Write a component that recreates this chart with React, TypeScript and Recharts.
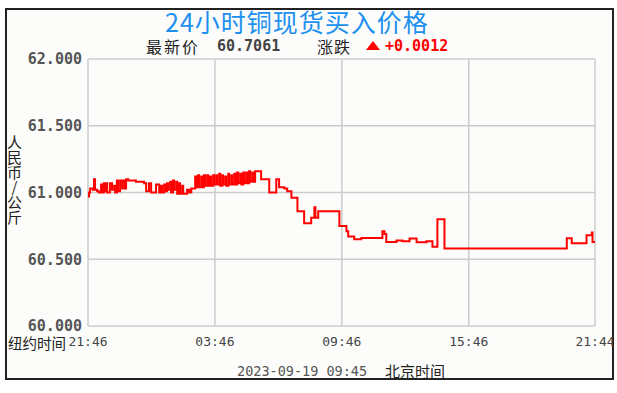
import React from 'react';
import { LineChart, Line, XAxis, YAxis, CartesianGrid } from 'recharts';

// minutes after 21:46 (New York) and spot buy price
const minutes = [
  0, 3, 6, 14, 17, 20, 26, 31, 37, 40, 45, 48, 51, 54, 60, 62, 68, 74, 77, 82,
  85, 91, 97, 99, 105, 108, 114, 136, 151, 159, 165, 173, 179, 187, 193, 199, 202, 207, 210, 216,
  219, 224, 227, 233, 236, 241, 244, 250, 253, 258, 261, 267, 270, 275, 281, 287, 293, 301, 304, 307,
  312, 315, 321, 324, 329, 332, 338, 341, 346, 349, 355, 358, 364, 366, 372, 375, 381, 383, 389, 392,
  398, 400, 406, 409, 415, 418, 423, 426, 432, 435, 440, 443, 449, 452, 457, 460, 466, 469, 474, 480,
  491, 514, 534, 542, 557, 565, 577, 594, 613, 633, 642, 645, 653, 693, 713, 733, 738, 755, 775, 835,
  841, 846, 875, 892, 912, 932, 960, 977, 991, 1011, 1358, 1372, 1414, 1429, 1431, 1438,
];
const prices = [
  60.97, 61.0, 61.03, 61.02, 61.1, 61.02, 61.01, 61.0, 61.06, 61.0, 61.07, 61.01, 61.07, 61.0, 61.0, 61.07, 61.02, 61.05, 61.0, 61.09,
  61.01, 61.09, 61.03, 61.09, 61.03, 61.1, 61.09, 61.08, 61.08, 61.07, 61.01, 61.07, 61.0, 61.0, 61.06, 61.06, 61.0, 61.05, 61.0, 61.06,
  61.01, 61.07, 61.02, 61.08, 61.0, 61.09, 61.02, 61.08, 60.99, 61.07, 60.99, 61.05, 60.99, 60.99, 61.02, 61.0, 61.03, 61.03, 61.12, 61.04,
  61.13, 61.04, 61.12, 61.04, 61.13, 61.05, 61.13, 61.05, 61.12, 61.05, 61.13, 61.06, 61.13, 61.06, 61.14, 61.05, 61.13, 61.06, 61.12, 61.05,
  61.14, 61.06, 61.13, 61.06, 61.14, 61.06, 61.15, 61.07, 61.14, 61.06, 61.15, 61.07, 61.15, 61.07, 61.16, 61.08, 61.15, 61.08, 61.16, 61.16,
  61.1, 61.0, 61.1, 61.04, 61.03, 61.01, 60.96, 60.86, 60.77, 60.81, 60.89, 60.81, 60.86, 60.86, 60.75, 60.71, 60.67, 60.65, 60.66, 60.71,
  60.69, 60.63, 60.64, 60.635, 60.655, 60.627, 60.635, 60.594, 60.8, 60.58, 60.657, 60.62, 60.68, 60.7, 60.63, 60.63,
];

const xTicks = [0, 360, 720, 1080, 1438];
const xTickLabels = ['21:46', '03:46', '09:46', '15:46', '21:44'];
const yTicks = [60, 60.5, 61, 61.5, 62];

const data = minutes.map((m, i) => ({ m, price: prices[i] }));

const mono = '"DejaVu Sans Mono", monospace';
const cjk = '"Noto Sans CJK SC", sans-serif';

export default function App() {
  return (
    <div style={{ position: 'absolute', left: 0, top: 0, width: 617, height: 393, background: '#fff' }}>
      {/* outer frame */}
      <div
        style={{
          position: 'absolute',
          left: 5,
          top: 8,
          width: 609,
          height: 372,
          boxSizing: 'border-box',
          border: '2px solid #222',
          background: '#fcfdfb',
        }}
      />

      <div style={{ position: 'absolute', left: 0, top: 0, width: 613, height: 393, overflow: 'hidden' }}>
        <LineChart width={617} height={393} data={data} margin={{ top: 59, right: 22, bottom: 0, left: 0 }}>
          <CartesianGrid stroke="#cccccc" strokeWidth={1.5} />
          <XAxis
            dataKey="m"
            type="number"
            domain={[0, 1438]}
            ticks={xTicks}
            height={67}
            tickLine={false}
            axisLine={false}
            tickSize={0}
            tickMargin={11}
            interval={0}
            tickFormatter={(v: number) => xTickLabels[xTicks.indexOf(v)] ?? ''}
            tick={{ fill: '#444', fontSize: 13, fontFamily: mono }}
          />
          <YAxis
            type="number"
            domain={[60, 62]}
            ticks={yTicks}
            width={88}
            tickLine={false}
            axisLine={false}
            tickSize={0}
            tickMargin={6}
            interval={0}
            tickFormatter={(v: number) => v.toFixed(3)}
            tick={{ fill: '#555', fontSize: 15, fontWeight: 'bold', fontFamily: mono }}
          />
          <Line
            type="stepAfter"
            dataKey="price"
            stroke="#ff0000"
            strokeWidth={2}
            dot={false}
            isAnimationActive={false}
          />
        </LineChart>
      </div>

      {/* title */}
      <div
        style={{
          position: 'absolute',
          left: 165,
          top: 9,
          fontSize: 25,
          lineHeight: '25px',
          letterSpacing: 1,
          color: '#2090f0',
          fontFamily: cjk,
          whiteSpace: 'nowrap',
        }}
      >
        24小时铜现货买入价格
      </div>

      {/* latest price line */}
      <div style={{ position: 'absolute', left: 146, top: 38, fontSize: 16, lineHeight: '16px', letterSpacing: 2, color: '#222', fontFamily: cjk, whiteSpace: 'nowrap' }}>
        最新价
      </div>
      <div style={{ position: 'absolute', left: 217, top: 38, fontSize: 15, lineHeight: '16px', color: '#444', fontWeight: 'bold', fontFamily: mono }}>
        60.7061
      </div>
      <div style={{ position: 'absolute', left: 317, top: 38, fontSize: 16, lineHeight: '16px', letterSpacing: 1, color: '#222', fontFamily: cjk, whiteSpace: 'nowrap' }}>
        涨跌
      </div>
      <div
        style={{
          position: 'absolute',
          left: 366,
          top: 41,
          width: 0,
          height: 0,
          borderLeft: '7px solid transparent',
          borderRight: '7px solid transparent',
          borderBottom: '9px solid #ff0000',
        }}
      />
      <div style={{ position: 'absolute', left: 385, top: 38, fontSize: 15, lineHeight: '16px', color: '#ff0000', fontWeight: 'bold', fontFamily: mono }}>
        +0.0012
      </div>

      {/* y axis unit, vertical */}
      <div
        style={{
          position: 'absolute',
          left: 7,
          top: 135,
          fontSize: 15,
          lineHeight: '15px',
          color: '#222',
          fontFamily: cjk,
          writingMode: 'vertical-rl',
          textOrientation: 'upright',
        }}
      >
        人民币/公斤
      </div>

      <div style={{ position: 'absolute', left: 8, top: 335, fontSize: 14.5, lineHeight: '15px', color: '#222', fontFamily: cjk, whiteSpace: 'nowrap' }}>
        纽约时间
      </div>

      {/* footer */}
      <div style={{ position: 'absolute', left: 237, top: 363, fontSize: 13.5, lineHeight: '16px', color: '#555', fontFamily: mono, whiteSpace: 'nowrap' }}>
        2023-09-19 09:45
      </div>
      <div style={{ position: 'absolute', left: 385, top: 363, fontSize: 15, lineHeight: '16px', color: '#222', fontFamily: cjk, whiteSpace: 'nowrap' }}>
        北京时间
      </div>
    </div>
  );
}
